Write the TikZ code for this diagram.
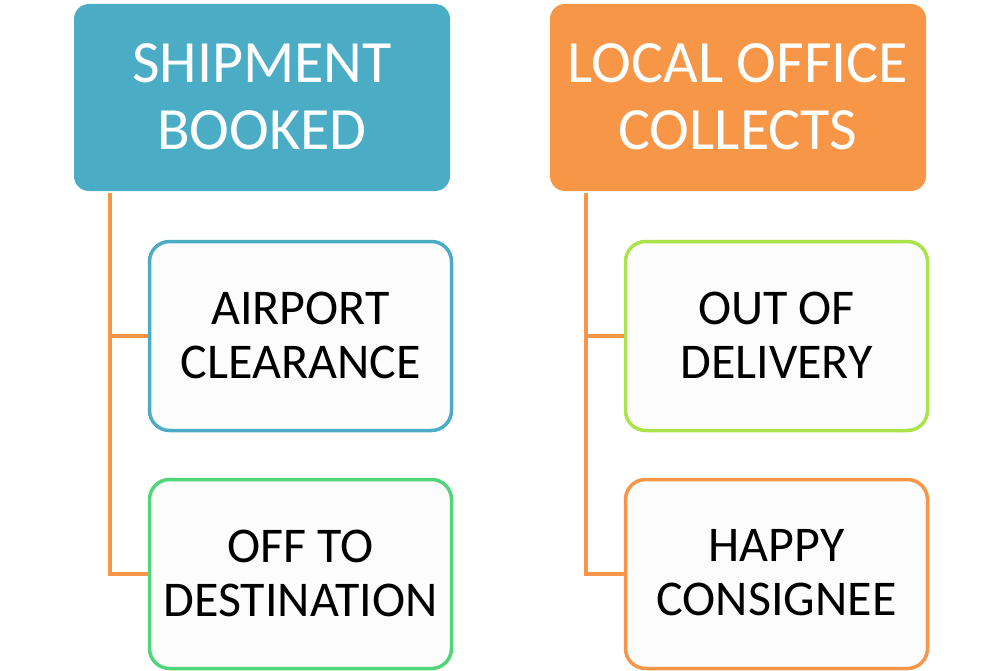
\documentclass[tikz,border=0pt]{standalone}
\usepackage{fontspec}
\setmainfont{Carlito}
\definecolor{teal}{HTML}{4BACC6}
\definecolor{orng}{HTML}{F79646}
\definecolor{grn}{HTML}{50D67A}
\definecolor{lime}{HTML}{A9E44B}
\tikzset{
  headbox/.style={rounded corners=15pt, inner sep=0pt, text=white, align=center,
    font=\fontsize{60}{67}\selectfont},
  subbox/.style={rounded corners=20pt, line width=3.5pt, fill=white!99!black, inner sep=0pt,
    align=center, font=\fontsize{50}{54}\selectfont},
  conn/.style={orng, line width=4pt}
}
\begin{document}
\begin{tikzpicture}[x=1pt,y=-1pt]
\useasboundingbox (0,0) rectangle (1000,671);
% header boxes
\path[fill=teal, rounded corners=15pt] (74,4) rectangle (450,191);
\node[headbox] (h1) at (262,97) {SHIPMENT\\BOOKED};
\path[fill=orng, rounded corners=15pt] (550,4) rectangle (926,191);
\node[headbox] (h2) at (738,97) {LOCAL OFFICE\\COLLECTS};
% sub boxes
\draw[teal, subbox] (149.5,241.5) rectangle (451.5,430.5);
\node[subbox, draw=none, fill=none] (a1) at (300.5,335) {AIRPORT\\CLEARANCE};
\draw[grn, subbox] (149.5,479.5) rectangle (451.5,668.5);
\node[subbox, draw=none, fill=none] (a2) at (300.5,573) {OFF TO\\DESTINATION};
\draw[lime, subbox] (625.5,241.5) rectangle (927.5,430.5);
\node[subbox, draw=none, fill=none] (b1) at (776.5,335) {OUT OF\\DELIVERY};
\draw[orng, subbox] (625.5,479.5) rectangle (927.5,668.5);
\node[subbox, draw=none, fill=none] (b2) at (776.5,573) {HAPPY\\CONSIGNEE};
% connectors
\coordinate (l0) at (110,193);
\coordinate (l1) at (110,336);
\coordinate (l2) at (110,574);
\coordinate (r0) at (586,193);
\coordinate (r1) at (586,336);
\coordinate (r2) at (586,574);
\draw[conn] (l0) -- (l2) -- (148,574);
\draw[conn] (l1) -- (148,336);
\draw[conn] (r0) -- (r2) -- (624,574);
\draw[conn] (r1) -- (624,336);
\end{tikzpicture}
\end{document}
